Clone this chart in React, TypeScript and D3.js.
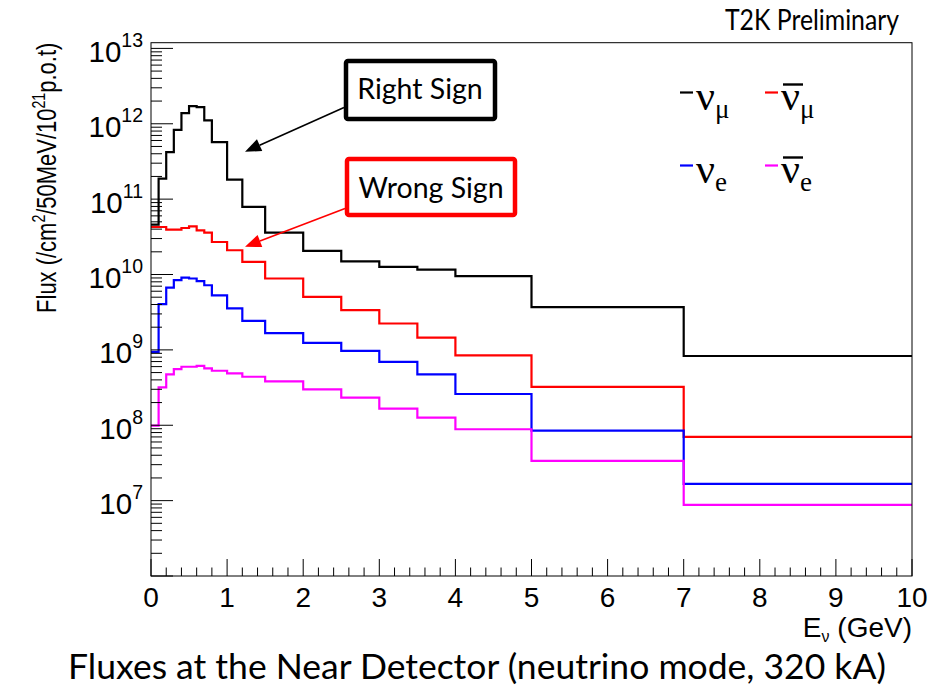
import React from "react";
import * as d3 from "d3";

const edges = [0, 0.1, 0.2, 0.3, 0.4, 0.5, 0.6, 0.7, 0.8, 1.0, 1.2, 1.5, 2.0, 2.5, 3.0, 3.5, 4.0, 5.0, 7.0, 10.0];
const numu = [4.6e10, 1.87e11, 4.2e11, 8.3e11, 1.38e12, 1.71e12, 1.66e12, 1.11e12, 5.7e11, 1.81e11, 7.9e10, 3.6e10, 2.06e10, 1.49e10, 1.26e10, 1.16e10, 9.5e9, 3.7e9, 8.3e8];
const numubar = [4.27e10, 4.27e10, 3.94e10, 3.94e10, 4.14e10, 4.36e10, 3.86e10, 3.6e10, 2.7e10, 2.1e10, 1.47e10, 8.85e9, 5.05e9, 3.37e9, 2.24e9, 1.45e9, 8.45e8, 3.24e8, 7.0e7];
const nue = [9.4e8, 4.05e9, 6.7e9, 8.4e9, 9.1e9, 8.85e9, 8.15e9, 7.2e9, 5.3e9, 3.55e9, 2.43e9, 1.67e9, 1.24e9, 9.7e8, 6.95e8, 4.73e8, 2.6e8, 8.5e7, 1.67e7];
const nuebar = [9.9e7, 3.18e8, 4.73e8, 5.57e8, 5.97e8, 5.97e8, 6.15e8, 5.69e8, 5.29e8, 4.88e8, 4.4e8, 3.83e8, 3.0e8, 2.32e8, 1.66e8, 1.26e8, 8.85e7, 3.37e7, 8.8e6];

const seriesNames = ["numu", "numubar", "nue", "nuebar"];
const seriesColors = ["#000000", "#ff0000", "#0000ff", "#ff00ff"];
const seriesValues = [numu, numubar, nue, nuebar];
const legendSub = ["μ", "μ", "e", "e"];
const legendBar = [false, true, false, true];

const xTicks = [0, 1, 2, 3, 4, 5, 6, 7, 8, 9, 10];
const yExponents = [7, 8, 9, 10, 11, 12, 13];

const W = 943, H = 686;
const L = 151, R = 912, T = 42.7, B = 576;

export default function App() {
  const x = d3.scaleLinear().domain([0, 10]).range([L, R]);
  const y = d3.scaleLog().domain([1e6, 1.19e13]).range([B, T]);

  const line = d3
    .line<[number, number]>()
    .x((d) => x(d[0]))
    .y((d) => y(d[1]))
    .curve(d3.curveStepAfter);

  const paths = seriesValues.map((vals) => {
    const pts: [number, number][] = vals.map((v, i) => [edges[i], v]);
    pts.push([edges[edges.length - 1], vals[vals.length - 1]]);
    return line(pts) || "";
  });

  const xMinor: number[] = [];
  for (let v = 0; v <= 10.0001; v += 0.2) {
    const r = Math.round(v * 10) / 10;
    if (Math.abs(r - Math.round(r)) > 1e-6) xMinor.push(r);
  }
  const yMinor: number[] = [];
  for (let e = 6; e <= 13; e++) {
    for (let k = 2; k <= 9; k++) {
      const v = k * Math.pow(10, e);
      if (v < 1.19e13) yMinor.push(v);
    }
  }
  const yMajor = [6, ...yExponents].map((e) => Math.pow(10, e));

  const helv = "'Liberation Sans', Arial, Helvetica, sans-serif";
  const cal = "Lato, 'Open Sans', sans-serif";
  const serif = "'Liberation Serif', 'Times New Roman', serif";

  const arrow = (x1: number, y1: number, x2: number, y2: number, color: string) => {
    const ang = Math.atan2(y2 - y1, x2 - x1);
    const len = 16, half = 6.5;
    const bx = x2 - len * Math.cos(ang), by = y2 - len * Math.sin(ang);
    const px = -Math.sin(ang) * half, py = Math.cos(ang) * half;
    return (
      <g>
        <line x1={x1} y1={y1} x2={bx} y2={by} stroke={color} strokeWidth={1.6} />
        <polygon points={`${x2},${y2} ${bx + px},${by + py} ${bx - px},${by - py}`} fill={color} />
      </g>
    );
  };

  const legendPos = [
    [680, 110],
    [765, 110],
    [680, 183],
    [765, 183],
  ];

  return (
    <svg width={W} height={H} style={{ position: "absolute", left: 0, top: 0, background: "#fff" }}>
      <rect x={0} y={0} width={W} height={H} fill="#fff" />
      {paths.map((p, i) => (
        <path key={seriesNames[i]} d={p} fill="none" stroke={seriesColors[i]} strokeWidth={2.2} />
      ))}
      <rect x={L} y={T} width={R - L} height={B - T} fill="none" stroke="#000" strokeWidth={1} />
      {xTicks.map((t) => (
        <line key={"xt" + t} x1={x(t)} x2={x(t)} y1={B} y2={B - 17} stroke="#000" strokeWidth={1} />
      ))}
      {xMinor.map((t) => (
        <line key={"xm" + t} x1={x(t)} x2={x(t)} y1={B} y2={B - 8.5} stroke="#000" strokeWidth={1} />
      ))}
      {xTicks.map((t) => (
        <text key={"xl" + t} x={x(t)} y={B + 30.5} textAnchor="middle" fontFamily={helv} fontSize={28} fill="#000">
          {t}
        </text>
      ))}
      {yMajor.map((v) => (
        <line key={"yt" + v} x1={L} x2={L + 22} y1={y(v)} y2={y(v)} stroke="#000" strokeWidth={1} />
      ))}
      {yMinor.map((v) => (
        <line key={"ym" + v} x1={L} x2={L + 11} y1={y(v)} y2={y(v)} stroke="#000" strokeWidth={1} />
      ))}
      {yExponents.map((e) => (
        <text key={"yl" + e} x={143} y={y(Math.pow(10, e)) + 13.5} textAnchor="end" fontFamily={helv} fontSize={29.5} fill="#000">
          <tspan>10</tspan>
          <tspan dy={-15} fontSize={19.5}>{e}</tspan>
        </text>
      ))}
      <text x={R} y={637} textAnchor="end" fontFamily={helv} fontSize={28} fill="#000">
        <tspan>E</tspan>
        <tspan dy={5} fontSize={16}>ν</tspan>
        <tspan dy={-5}> (GeV)</tspan>
      </text>
      <g transform={`translate(56, ${T}) rotate(-90) scale(0.785, 1)`}>
        <text x={0} y={0} textAnchor="end" fontFamily={helv} fontSize={28} fill="#000">
          <tspan>Flux (/cm</tspan>
          <tspan dy={-11} fontSize={18}>2</tspan>
          <tspan dy={11}>/50MeV/10</tspan>
          <tspan dy={-11} fontSize={18}>21</tspan>
          <tspan dy={11}>p.o.t)</tspan>
        </text>
      </g>
      {seriesNames.map((n, i) => {
        const [lx, ly] = legendPos[i];
        return (
          <g key={"lg" + n}>
            <line x1={lx} x2={lx + 13} y1={ly - 17.5} y2={ly - 17.5} stroke={seriesColors[i]} strokeWidth={2.2} />
            <text x={lx + 16} y={ly} fontFamily={serif} fontSize={42} fill="#000">
              <tspan>ν</tspan>
              <tspan dy={7.5} fontSize={27}>{legendSub[i]}</tspan>
            </text>
            {legendBar[i] && (
              <line x1={lx + 18} x2={lx + 38} y1={ly - 25.5} y2={ly - 25.5} stroke="#000" strokeWidth={2.4} />
            )}
          </g>
        );
      })}
      {arrow(344, 107.5, 245, 151.7, "#000")}
      {arrow(345, 208.5, 245, 246.7, "#ff0000")}
      <rect x={346} y={61} width={149} height={58} rx={2} fill="#fff" stroke="#000" strokeWidth={4.5} />
      <text x={420} y={99} textAnchor="middle" fontFamily={cal} fontSize={28.5} fill="#000">Right Sign</text>
      <rect x={347} y={159} width={168} height={56} rx={2} fill="#fff" stroke="#ff0000" strokeWidth={4.5} />
      <text x={431} y={197.5} textAnchor="middle" fontFamily={cal} fontSize={28.5} fill="#000">Wrong Sign</text>
      <g transform="translate(812, 30) scale(0.87, 1)">
        <text x={0} y={0} textAnchor="middle" fontFamily={cal} fontSize={28.5} fill="#000">T2K Preliminary</text>
      </g>
      <text x={477} y={679} textAnchor="middle" fontFamily={cal} fontSize={35.5} fill="#000">
        Fluxes at the Near Detector (neutrino mode, 320 kA)
      </text>
    </svg>
  );
}
